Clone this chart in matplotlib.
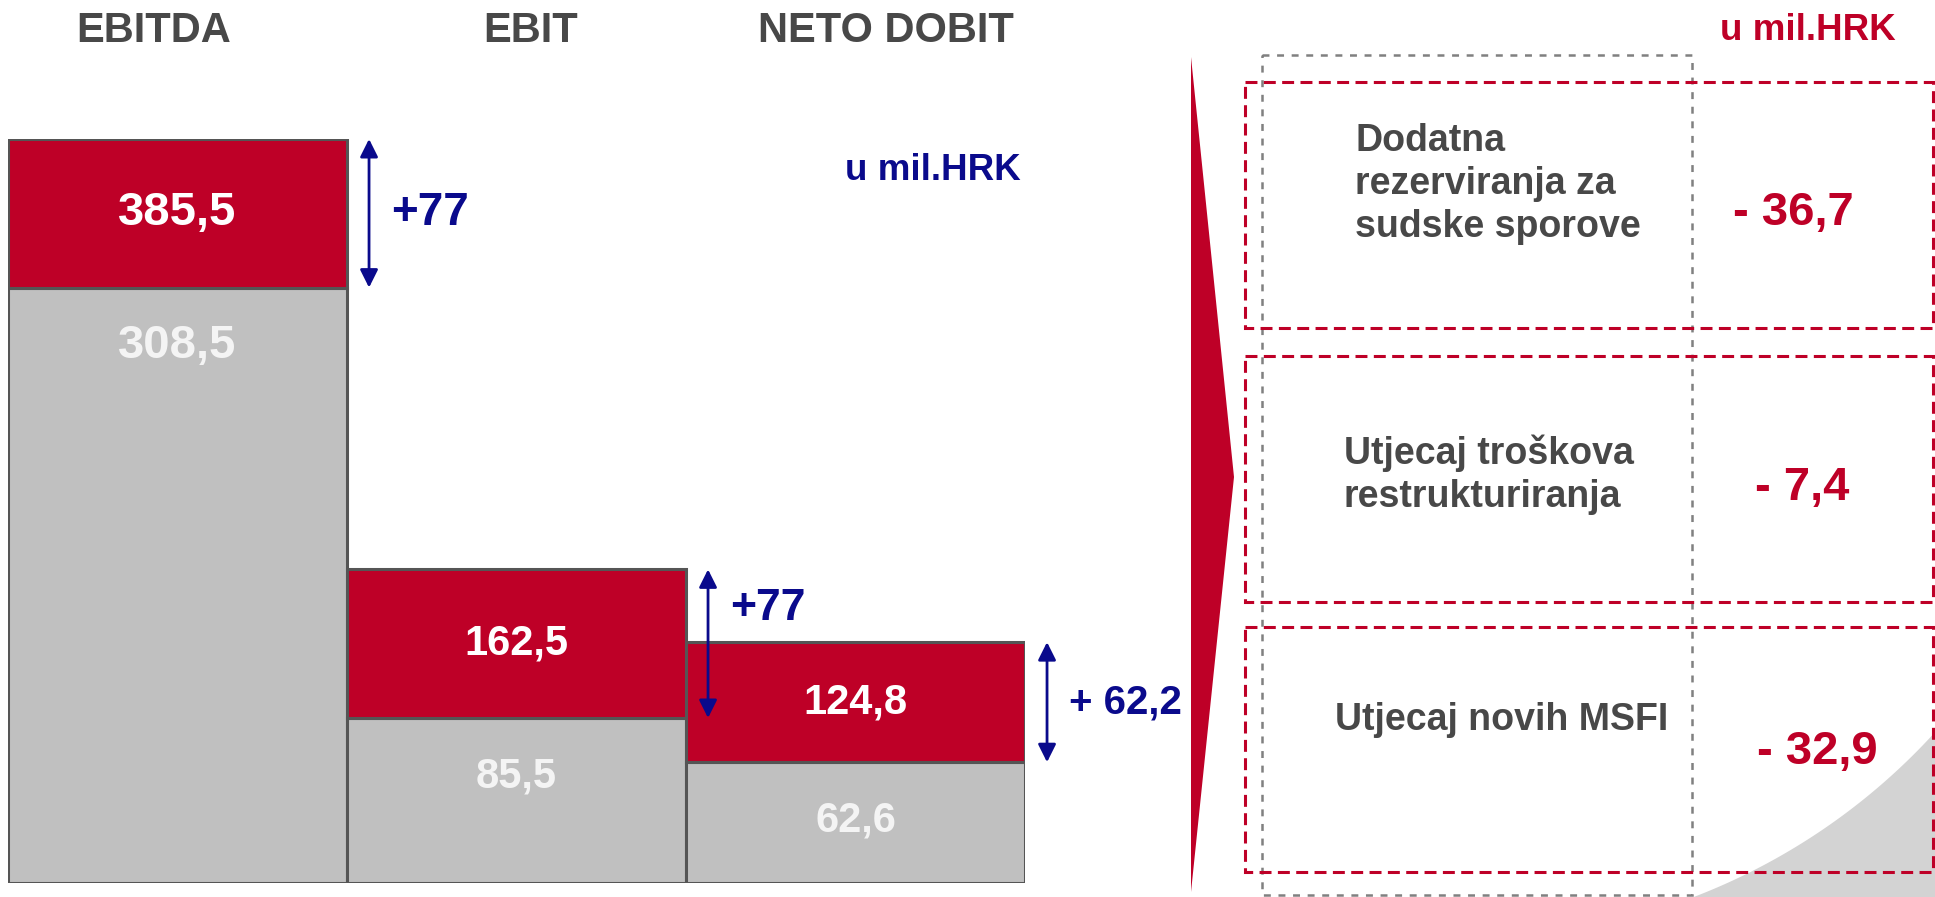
import numpy as np
import matplotlib
matplotlib.use("Agg")
import matplotlib.pyplot as plt
from matplotlib.patches import Polygon, Rectangle

plt.rcParams['font.family'] = ['Liberation Sans', 'DejaVu Sans']
plt.rcParams['font.weight'] = 'bold'
plt.rcParams['lines.scale_dashes'] = False

# ---------------- data ----------------
categories = ["EBITDA", "EBIT", "NETO DOBIT"]
totals = [385.5, 162.5, 124.8]
base = [308.5, 85.5, 62.6]
total_labels = ["385,5", "162,5", "124,8"]
base_labels = ["308,5", "85,5", "62,6"]
diff_labels = ["+77", "+77", "+ 62,2"]
items = ["Dodatna\nrezerviranja za\nsudske sporove",
         "Utjecaj troškova\nrestrukturiranja",
         "Utjecaj novih MSFI"]
item_values = [-36.7, -7.4, -32.9]
item_labels = ["- 36,7", "- 7,4", "- 32,9"]
unit_label = "u mil.HRK"

# ---------------- style ----------------
RED = "#BE0027"
GRAY = "#C0C0C0"
EDGE = "#555555"
NAVY = "#0A0A8C"
TXT = "#484848"

W, H = 1935, 897
fig = plt.figure(figsize=(W / 100, H / 100), dpi=100)
fig.patch.set_facecolor("white")

# background / overlay axes in pixel coordinates
bg = fig.add_axes([0, 0, 1, 1], zorder=0)
bg.set_xlim(0, W)
bg.set_ylim(H, 0)
bg.axis("off")

# grey swoosh bottom-right (outside a big circle)
cx, cy, r = 1467, 306, 633
ang = np.linspace(np.deg2rad(72), np.deg2rad(38), 200)
arc = np.column_stack([cx + r * np.cos(ang), cy + r * np.sin(ang)])
poly = np.vstack([arc, [[W + 50, cy + r * np.sin(ang[-1])], [W + 50, H + 50], [arc[0, 0], H + 50]]])
bg.add_patch(Polygon(poly, closed=True, facecolor="#D3D3D3", edgecolor="none", zorder=0))

# red wedge pointer
bg.add_patch(Polygon([[1191, 57], [1234, 477], [1191, 892]], closed=True,
                     facecolor=RED, edgecolor="none", zorder=2))

# grey dashed box (label column)
bg.add_patch(Rectangle((1262, 55), 1692 - 1262, 895 - 55, fill=False,
                       edgecolor="#808080", lw=1.8, linestyle=(0, (5.0, 5.5)), zorder=3))

# red dashed boxes and their contents
box_tops = [82, 356, 627]
box_bottoms = [328, 602, 872]
text_left = [1355, 1344, 1335]
text_y = [184, 475, 720]
val_x = [1793, 1802, 1817]
val_y = [213, 488, 752]
for i, (label, vlab) in enumerate(zip(items, item_labels)):
    bg.add_patch(Rectangle((1245, box_tops[i]), 1933 - 1245, box_bottoms[i] - box_tops[i],
                           fill=False, edgecolor=RED, lw=2.2,
                           linestyle=(0, (8.6, 4.6)), zorder=3))
    bg.text(text_left[i], text_y[i], label, ha="left", va="center", ma="left",
            fontsize=27, color=TXT, linespacing=1.25, zorder=4)
    bg.text(val_x[i], val_y[i], vlab, ha="center", va="center",
            fontsize=34, color=RED, zorder=4)

# headers
header_x = [154, 531, 886]
for hx, cat in zip(header_x, categories):
    bg.text(hx, 31, cat, ha="center", va="center", fontsize=30, color=TXT)

# unit labels
bg.text(933, 170, unit_label, ha="center", va="center", fontsize=26.5, color=NAVY)
bg.text(1808, 30, unit_label, ha="center", va="center", fontsize=26.5, color=RED)

# ---------------- bars ----------------
left_px, right_px, bottom_px, top_px = 8, 1025, 883, 139
ax = fig.add_axes([left_px / W, (H - bottom_px) / H,
                   (right_px - left_px) / W, (bottom_px - top_px) / H], zorder=1)
ax.patch.set_alpha(0)
ax.set_xlim(0, 3)
ax.set_ylim(0, max(totals))
ax.axis("off")

x = np.arange(len(categories))
diffs = np.subtract(totals, base)
ax.bar(x, base, width=1.0, align="edge", color=GRAY, edgecolor=EDGE, lw=2.2, zorder=2)
ax.bar(x, diffs, bottom=base, width=1.0, align="edge", color=RED, edgecolor=EDGE, lw=2.2, zorder=2)

label_sizes = [34, 30, 30]
diff_sizes = [33, 32, 29]
diff_text_frac = [0.5, 0.74, 0.5]   # vertical placement of the delta text along the arrow
for i in range(len(categories)):
    mid = base[i] + diffs[i] / 2
    ax.text(i + 0.5, mid, total_labels[i], ha="center", va="center",
            fontsize=label_sizes[i], color="white", zorder=3)
    ax.annotate(base_labels[i], xy=(i + 0.5, base[i]), xytext=(0, -42),
                textcoords="offset points", ha="center", va="center",
                fontsize=label_sizes[i], color="#F4F4F4", zorder=3)
    # double-headed arrow spanning the red part
    ax.annotate("", xy=(i + 1.065, totals[i]), xytext=(i + 1.065, base[i]),
                arrowprops=dict(arrowstyle="<|-|>", color=NAVY, lw=2.0,
                                mutation_scale=27, shrinkA=0, shrinkB=0),
                annotation_clip=False, zorder=4)
    ax.text(i + 1.13, base[i] + diffs[i] * diff_text_frac[i], diff_labels[i],
            ha="left", va="center", fontsize=diff_sizes[i], color=NAVY,
            clip_on=False, zorder=4)

fig.savefig("out.png", dpi=100, facecolor="white")
